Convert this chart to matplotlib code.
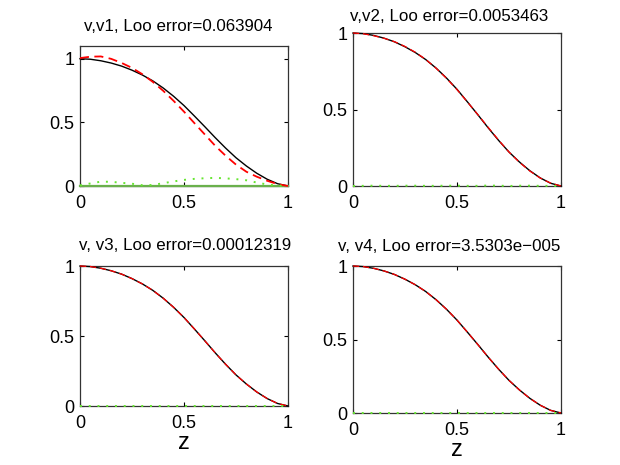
import numpy
from matplotlib import pyplot

pyplot.rcParams['font.family'] = ['Liberation Sans', 'DejaVu Sans']

# Values.
z = [0.00, 0.05, 0.10, 0.15, 0.20, 0.25, 0.30, 0.35, 0.40, 0.45, 0.50,
     0.55, 0.60, 0.65, 0.70, 0.75, 0.80, 0.85, 0.90, 0.95, 1.00]
v_exact = [1.000, 0.996, 0.984, 0.966, 0.942, 0.910, 0.872, 0.826, 0.770,
           0.705, 0.632, 0.550, 0.466, 0.380, 0.298, 0.222, 0.157, 0.100,
           0.053, 0.018, 0.000]
v1 = [1.005, 1.016, 1.018, 0.999, 0.967, 0.928, 0.878, 0.818, 0.748, 0.669,
      0.584, 0.494, 0.405, 0.316, 0.238, 0.168, 0.112, 0.073, 0.041, 0.015,
      0.000]
err1 = [0.005, 0.020, 0.034, 0.033, 0.025, 0.018, 0.006, 0.008, 0.022, 0.036,
        0.048, 0.056, 0.061, 0.064, 0.060, 0.054, 0.045, 0.027, 0.012, 0.003,
        0.000]
v2 = [1.000, 0.995, 0.982, 0.965, 0.943, 0.912, 0.874, 0.827, 0.769, 0.703,
      0.630, 0.549, 0.467, 0.383, 0.300, 0.222, 0.155, 0.098, 0.052, 0.019,
      0.000]
err2 = [0.000, 0.001, 0.002, 0.001, 0.001, 0.002, 0.002, 0.001, 0.001, 0.002,
        0.002, 0.001, 0.001, 0.003, 0.002, 0.000, 0.002, 0.002, 0.001, 0.001,
        0.000]
v3 = [1.000, 0.996, 0.984, 0.966, 0.942, 0.910, 0.872, 0.826, 0.770, 0.705,
      0.632, 0.550, 0.466, 0.380, 0.298, 0.222, 0.157, 0.100, 0.053, 0.018,
      0.000]
err3 = [0.0] * 21
v4 = [1.000, 0.996, 0.984, 0.966, 0.942, 0.910, 0.872, 0.826, 0.770, 0.705,
      0.632, 0.550, 0.466, 0.380, 0.298, 0.222, 0.157, 0.100, 0.053, 0.018,
      0.000]
err4 = [0.0] * 21

titles = ['v,v1, Loo error=0.063904', 'v,v2, Loo error=0.0053463',
          'v, v3, Loo error=0.00012319', 'v, v4, Loo error=3.5303e\u2212005']
approx = [v1, v2, v3, v4]
errors = [err1, err2, err3, err4]
ytops = [1.1, 1.0, 1.0, 1.0]

W, H = 620.0, 465.0
# left, right, top, bottom in pixels, title centre x and title baseline y
boxes = [(80, 288, 46, 186, 178, 31), (353, 561, 33, 186, 449, 21),
         (80, 288, 266, 406, 185, 250), (353, 561, 266, 413, 449, 251)]

fig = pyplot.figure(figsize=(6.2, 4.65), dpi=100)
for i, (l, r, t, b, tx, ty) in enumerate(boxes):
  ax = fig.add_axes([l / W, 1 - b / H, (r - l) / W, (b - t) / H])
  ax.plot(z, v_exact, color='k', linewidth=1.0, zorder=3, clip_on=False)
  ax.plot(z, approx[i], color='#ff0000', linewidth=1.3 if i == 0 else 0.9,
          linestyle=(0, (5, 3)), zorder=4, clip_on=False)
  if i == 0:
    ax.plot([0, 1], [0, 0], color='#6ab04c', linewidth=1.6, zorder=3,
            clip_on=False)
  ax.plot(z, errors[i], color='#66e630', linewidth=1.4,
          linestyle=(0, (1, 3.5)), zorder=4, clip_on=False)
  ax.set_xlim(0, 1)
  ax.set_ylim(0, ytops[i])
  ax.set_xticks([0, 0.5, 1])
  ax.set_xticklabels(['0', '0.5', '1'])
  ax.set_yticks([0, 0.5, 1])
  ax.set_yticklabels(['0', '0.5', '1'])
  ax.tick_params(direction='in', length=3, width=0.8, labelsize=13,
                 top=True, right=True)
  ax.tick_params(axis='x', pad=6.5)
  ax.tick_params(axis='y', pad=4)
  for spine in ax.spines.values():
    spine.set_linewidth(0.9)
    spine.set_color('#333333')
  fig.text(tx / W, 1 - ty / H, titles[i], ha='center', va='baseline',
           fontsize=12.2)
  if i >= 2:
    ax.set_xlabel('z', fontsize=17, labelpad=0)

fig.savefig('out.png', dpi=100)
